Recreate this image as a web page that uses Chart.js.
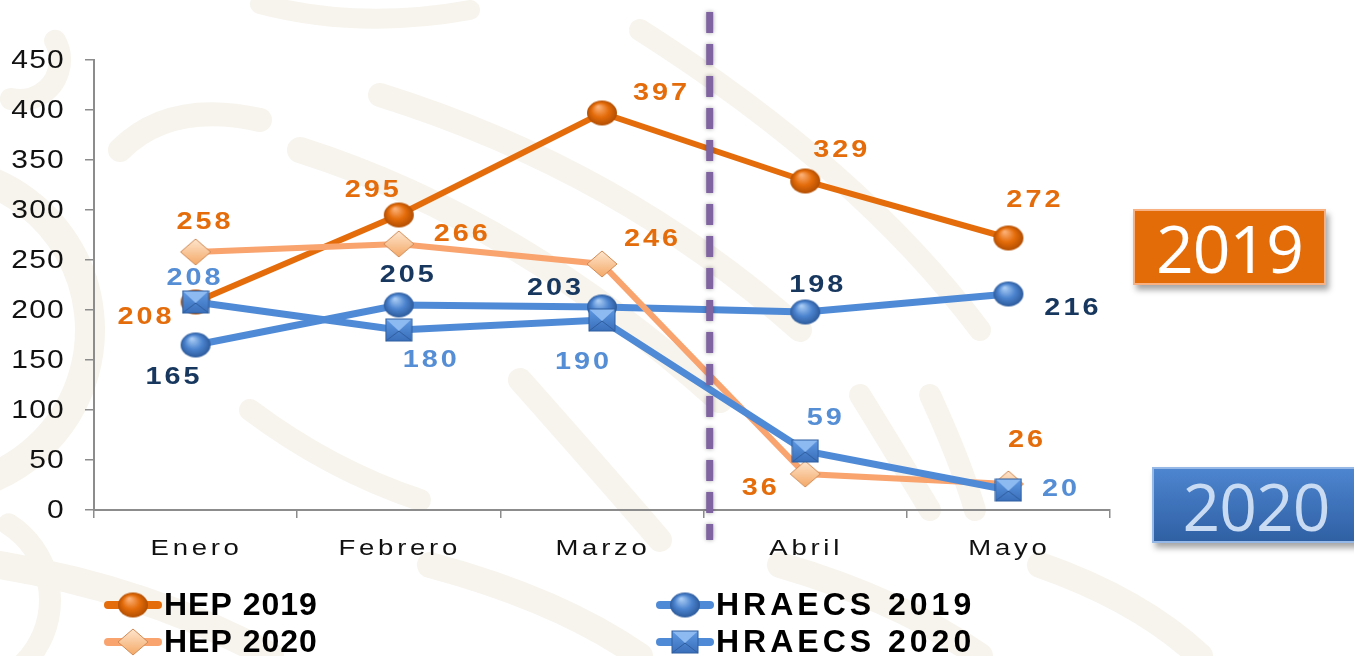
<!DOCTYPE html>
<html>
<head>
<meta charset="utf-8">
<script src="https://cdn.jsdelivr.net/npm/chart.js@4.4.1/dist/chart.umd.min.js"></script>
<style>
  html, body { margin: 0; padding: 0; background: #fff; }
  #wrap { position: relative; width: 1354px; height: 656px; overflow: hidden; }
  #chart { position: absolute; left: 0; top: 0; }
  .tag {
    position: absolute; box-sizing: border-box; height: 76px;
    display: flex; align-items: center; justify-content: center;
    font-family: "Open Sans", sans-serif; font-weight: 500; font-size: 66px;
    letter-spacing: -1px; box-shadow: 3px 5px 6px rgba(0,0,0,.35);
  }
  #tag2019 { left: 1133px; top: 209px; width: 193px; background: #E36C09; border: 2px solid #F7B183; color: #fff; }
  #tag2020 { left: 1152px; top: 467px; width: 212px; padding-right: 4px; background: linear-gradient(#4D85CF, #2F60A4); border: 2px solid #95B8E6; color: #C9DBF2; }
</style>
</head>
<body>
<div id="wrap">
  <canvas id="chart" width="1354" height="656"></canvas>
  <div class="tag" id="tag2019">2019</div>
  <div class="tag" id="tag2020">2020</div>
</div>
<script>
const CATEGORIES  = ["Enero", "Febrero", "Marzo", "Abril", "Mayo"];
const HEP_2019    = [208, 295, 397, 329, 272];
const HEP_2020    = [258, 266, 246, 36, 26];
const HRAECS_2019 = [165, 205, 203, 198, 216];
const HRAECS_2020 = [208, 180, 190, 59, 20];
const Y_MAX  = 450;
const Y_STEP = 50;

// where each value label sits, relative to its point (dx, dy in px)
const OFF_HEP_2019    = [[-51, 15], [-27, -25], [58, -20], [35, -31], [25, -38]];
const OFF_HEP_2020    = [[8, -30], [62, -10], [49, -25], [-46, 14], [17, -44]];
const OFF_HRAECS_2019 = [[-23, 32], [8, -30], [-48, -19], [11, -27], [63, 14]];
const OFF_HRAECS_2020 = [[-2, -24], [31, 30], [-20, 42], [19, -33], [51, -1]];

const ORANGE = "#E46C0A", SALMON = "#F9A36F", BLUE = "#4F8AD6";

// ---- marker images (shaded like the office-style markers) ----
function sphere(base, light, dark, w, h) {
  const c = document.createElement("canvas");
  c.width = w + 2; c.height = h + 2;
  const g = c.getContext("2d");
  g.translate(c.width / 2, c.height / 2);
  g.scale(1, h / w);
  const r = w / 2;
  const grad = g.createRadialGradient(-r * 0.25, -r * 0.5, r * 0.05, 0, 0, r);
  grad.addColorStop(0, light);
  grad.addColorStop(0.55, base);
  grad.addColorStop(1, dark);
  g.fillStyle = grad;
  g.beginPath(); g.arc(0, 0, r, 0, Math.PI * 2); g.fill();
  return c;
}

function diamond(w, h) {
  const c = document.createElement("canvas");
  c.width = w + 2; c.height = h + 2;
  const g = c.getContext("2d");
  g.translate(1, 1);
  const grad = g.createLinearGradient(0, 0, 0, h);
  grad.addColorStop(0, "#FEE6CE");
  grad.addColorStop(1, "#F4A866");
  g.fillStyle = grad;
  g.beginPath();
  g.moveTo(w / 2, 0); g.lineTo(w, h / 2); g.lineTo(w / 2, h); g.lineTo(0, h / 2); g.closePath();
  g.fill();
  g.strokeStyle = "#D08A55"; g.lineWidth = 1; g.stroke();
  return c;
}

function envelope(w, h) {
  const c = document.createElement("canvas");
  c.width = w + 2; c.height = h + 2;
  const g = c.getContext("2d");
  g.translate(1, 1);
  const grad = g.createLinearGradient(0, 0, 0, h);
  grad.addColorStop(0, "#5E98E2");
  grad.addColorStop(1, "#3A6FBA");
  g.fillStyle = grad; g.fillRect(0, 0, w, h);
  g.fillStyle = "#8DBAF0";
  g.beginPath(); g.moveTo(0, 0); g.lineTo(w, 0); g.lineTo(w / 2, h * 0.55); g.closePath(); g.fill();
  g.strokeStyle = "#2F5E9F"; g.lineWidth = 1;
  g.beginPath(); g.moveTo(0, h); g.lineTo(w / 2, h * 0.55); g.lineTo(w, h); g.stroke();
  g.strokeRect(0, 0, w, h);
  return c;
}

const MK_HEP19    = sphere(ORANGE, "#FBB077", "#B24E02", 30, 25);
const MK_HEP20    = diamond(30, 26);
const MK_HRAECS19 = sphere("#4C84CF", "#A9CCF4", "#2D5B9C", 30, 25);
const MK_HRAECS20 = envelope(26, 22);

// ---- faint background pattern ----
function drawPattern(ctx) {
  ctx.strokeStyle = "#F7F4ED";
  ctx.lineCap = "round";
  const curves = [
    [26, 300, 150, 520, 220, 720, 400],
    [24, 380, 95, 620, 170, 800, 330],
    [22, 640, 30, 860, 170, 980, 330],
    [24, 520, 380, 600, 470, 660, 540],
    [22, 860, 395, 900, 460, 930, 510],
    [22, 930, 395, 960, 460, 975, 510],
    [28, 0, 565, 150, 590, 270, 656],
    [26, 430, 565, 560, 600, 640, 656],
    [26, 780, 565, 900, 600, 980, 656],
    [26, 1040, 565, 1140, 600, 1200, 656],
    [20, 260, 4, 360, 30, 470, 10],
    [24, 120, 150, 170, 100, 260, 120],
    [22, 250, 410, 330, 470, 420, 500]
  ];
  curves.forEach(([w, x0, y0, cx, cy, x1, y1]) => {
    ctx.lineWidth = w;
    ctx.beginPath(); ctx.moveTo(x0, y0); ctx.quadraticCurveTo(cx, cy, x1, y1); ctx.stroke();
  });
  ctx.lineWidth = 30;
  ctx.beginPath(); ctx.arc(-70, 330, 160, -1.3, 1.4); ctx.stroke();
  ctx.lineWidth = 22;
  ctx.beginPath(); ctx.arc(-40, 600, 90, -1.0, 0.9); ctx.stroke();
  ctx.beginPath(); ctx.arc(20, 60, 40, -0.5, 1.8); ctx.stroke();
}

// text drawn a little wider than the font, like the stretched original
function wideText(ctx, text, x, y, sx) {
  ctx.save();
  ctx.translate(x, y);
  ctx.scale(sx, 1);
  ctx.fillText(text, 0, 0);
  ctx.restore();
}

const decor = {
  id: "decor",
  beforeDraw(chart) {
    const ctx = chart.ctx;
    ctx.save();
    ctx.fillStyle = "#fff";
    ctx.fillRect(0, 0, chart.width, chart.height);
    drawPattern(ctx);
    ctx.restore();
  },
  afterDatasetsDraw(chart) {
    const ctx = chart.ctx;
    const x = chart.scales.x;

    // dashed divider between Marzo and Abril
    const xd = x.getPixelForValue(2.53);
    ctx.save();
    ctx.strokeStyle = "#8064A2";
    ctx.lineWidth = 7;
    ctx.setLineDash([21, 11]);
    ctx.shadowColor = "rgba(0,0,0,0.35)";
    ctx.shadowBlur = 4;
    ctx.beginPath(); ctx.moveTo(xd, 12); ctx.lineTo(xd, 540); ctx.stroke();
    ctx.restore();

    // value labels
    ctx.save();
    ctx.font = "bold 24px 'Liberation Sans', Arial, sans-serif";
    ctx.letterSpacing = "2.5px";
    ctx.textAlign = "center";
    ctx.textBaseline = "middle";
    chart.data.datasets.forEach((ds, i) => {
      const meta = chart.getDatasetMeta(i);
      ctx.fillStyle = ds.labelColor;
      meta.data.forEach((pt, j) => {
        const [dx, dy] = ds.labelOffsets[j];
        wideText(ctx, String(ds.data[j]), pt.x + dx + 1.5, pt.y + dy, 1.2);
      });
    });
    ctx.restore();
  },
  afterDraw(chart) {
    const ctx = chart.ctx;
    const x = chart.scales.x;
    const y = chart.scales.y;

    // value axis labels
    ctx.save();
    ctx.font = "25px 'Liberation Sans', Arial, sans-serif";
    ctx.letterSpacing = "1px";
    ctx.fillStyle = "#111";
    ctx.textAlign = "right";
    ctx.textBaseline = "middle";
    y.ticks.forEach(t => wideText(ctx, String(t.value), 65, y.getPixelForValue(t.value) + 1, 1.2));
    ctx.restore();

    // category labels
    ctx.save();
    ctx.font = "22px 'Liberation Sans', Arial, sans-serif";
    ctx.letterSpacing = "3px";
    ctx.fillStyle = "#111";
    ctx.textAlign = "center";
    ctx.textBaseline = "alphabetic";
    CATEGORIES.forEach((c, i) => wideText(ctx, c, x.getPixelForTick(i) + 1, 555, 1.25));
    ctx.restore();

    // legend, 2 x 2
    const items = [
      { ds: 0, lx: 108, ly: 605, sp: 1 },
      { ds: 2, lx: 660, ly: 605, sp: 4 },
      { ds: 1, lx: 108, ly: 642, sp: 1 },
      { ds: 3, lx: 660, ly: 642, sp: 4 }
    ];
    ctx.save();
    ctx.font = "bold 32px 'Liberation Sans', Arial, sans-serif";
    ctx.textBaseline = "middle";
    ctx.textAlign = "left";
    items.forEach(it => {
      const ds = chart.data.datasets[it.ds];
      ctx.strokeStyle = ds.borderColor;
      ctx.lineWidth = 8;
      ctx.lineCap = "round";
      ctx.beginPath(); ctx.moveTo(it.lx, it.ly); ctx.lineTo(it.lx + 50, it.ly); ctx.stroke();
      const img = ds.pointStyle;
      ctx.drawImage(img, it.lx + 25 - img.width / 2, it.ly - img.height / 2);
      ctx.letterSpacing = it.sp + "px";
      ctx.fillStyle = "#000";
      ctx.fillText(ds.label, it.lx + 56, it.ly + 1);
    });
    ctx.restore();
  }
};

function series(label, data, color, width, marker, labelColor, offsets, order) {
  return {
    label, data, order,
    borderColor: color, backgroundColor: color, borderWidth: width,
    pointStyle: marker, pointRadius: 10, pointHoverRadius: 10,
    tension: 0, fill: false,
    labelColor, labelOffsets: offsets
  };
}

new Chart(document.getElementById("chart"), {
  type: "line",
  data: {
    labels: CATEGORIES,
    datasets: [
      series("HEP 2019", HEP_2019, ORANGE, 6, MK_HEP19, ORANGE, OFF_HEP_2019, 3),
      series("HEP 2020", HEP_2020, SALMON, 6, MK_HEP20, ORANGE, OFF_HEP_2020, 1),
      series("HRAECS 2019", HRAECS_2019, BLUE, 7, MK_HRAECS19, "#17375E", OFF_HRAECS_2019, 2),
      series("HRAECS 2020", HRAECS_2020, BLUE, 7, MK_HRAECS20, "#558ED5", OFF_HRAECS_2020, 0)
    ]
  },
  options: {
    responsive: false,
    animation: false,
    devicePixelRatio: 1,
    layout: { padding: { top: 60, right: 244, left: 0, bottom: 0 } },
    plugins: { legend: { display: false }, tooltip: { enabled: false } },
    scales: {
      x: {
        offset: true,
        grid: { offset: true, drawOnChartArea: false, tickLength: 8, color: "#8c8c8c", lineWidth: 1.5 },
        border: { color: "#8c8c8c", width: 2 },
        ticks: { display: false },
        afterFit(s) { s.height = 146; }
      },
      y: {
        min: 0, max: Y_MAX,
        ticks: { stepSize: Y_STEP, display: false },
        grid: { drawOnChartArea: false, tickLength: 9, color: "#8c8c8c", lineWidth: 1.5 },
        border: { color: "#8c8c8c", width: 2 },
        afterFit(s) { s.width = 94; }
      }
    }
  },
  plugins: [decor]
});
</script>
</body>
</html>
